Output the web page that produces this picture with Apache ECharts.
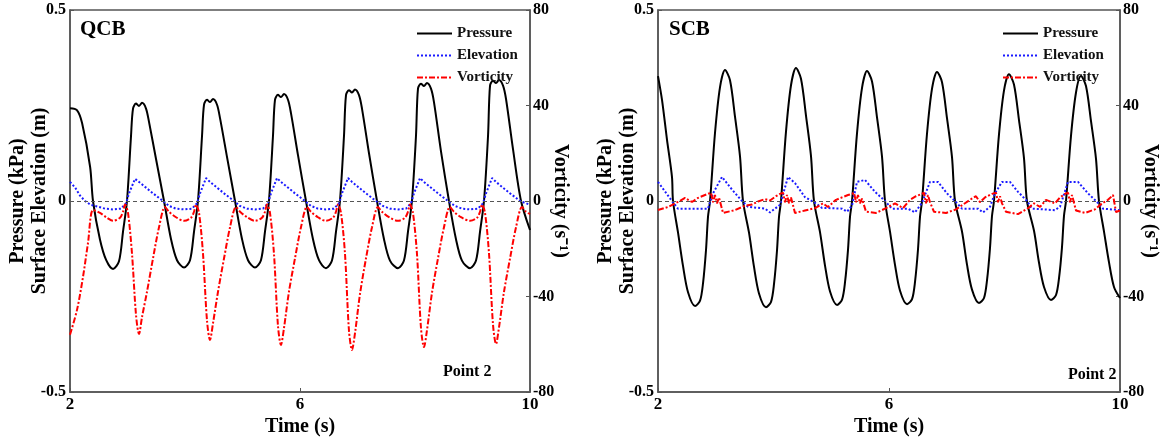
<!DOCTYPE html>
<html>
<head>
<meta charset="utf-8">
<script src="https://cdn.jsdelivr.net/npm/echarts@6/dist/echarts.min.js"></script>
<style>
html,body{margin:0;padding:0;background:#fff;}
#chart{width:1168px;height:441px;}
</style>
</head>
<body>
<div id="chart"></div>
<script>
// ---------- DATA ----------
const timeTicks = [2, 6, 10];
const panelTitles = ['QCB', 'SCB'];
const seriesNames = ['Pressure', 'Elevation', 'Vorticity'];

// QCB (left panel) : [time (s), value]
const qcbPressure = [
[2.00,0.243],[2.12,0.238],[2.21,0.204],[2.35,0.089],[2.40,0],[2.52,-0.10],[2.63,-0.155],
[2.748,-0.178],[2.852,-0.158],[2.922,-0.08],[2.991,0],[3.061,0.17],[3.096,0.242],[3.148,0.255],[3.200,0.249],[3.252,0.257],[3.322,0.242],[3.374,0.207],[3.496,0.11],[3.635,0],[3.757,-0.10],[3.861,-0.155],
[3.983,-0.174],[4.087,-0.155],[4.157,-0.08],[4.226,0],[4.296,0.17],[4.331,0.252],[4.383,0.265],[4.435,0.259],[4.487,0.267],[4.557,0.252],[4.609,0.217],[4.731,0.115],[4.870,0],[4.992,-0.10],[5.096,-0.155],
[5.217,-0.174],[5.321,-0.155],[5.391,-0.08],[5.460,0],[5.530,0.17],[5.565,0.265],[5.617,0.278],[5.669,0.272],[5.721,0.28],[5.791,0.265],[5.843,0.23],[5.965,0.12],[6.104,0],[6.226,-0.10],[6.330,-0.155],
[6.452,-0.176],[6.556,-0.156],[6.626,-0.08],[6.695,0],[6.765,0.17],[6.800,0.277],[6.852,0.29],[6.904,0.284],[6.956,0.292],[7.026,0.277],[7.078,0.242],[7.200,0.125],[7.339,0],[7.461,-0.10],[7.565,-0.156],
[7.704,-0.176],[7.808,-0.156],[7.878,-0.08],[7.947,0],[8.017,0.17],[8.052,0.294],[8.104,0.307],[8.156,0.301],[8.208,0.309],[8.278,0.294],[8.330,0.259],[8.452,0.13],[8.591,0],[8.713,-0.10],[8.817,-0.156],
[8.957,-0.176],[9.061,-0.156],[9.131,-0.08],[9.200,0],[9.270,0.17],[9.305,0.302],[9.357,0.315],[9.409,0.309],[9.461,0.317],[9.531,0.302],[9.583,0.267],[9.705,0.135],[9.844,0],[10.0,-0.076]
];
const qcbElevation = [
[2.0,0.05],[2.09,0.035],[2.17,0.015],[2.26,0.0],[2.36,-0.01],
[2.487,-0.015],[2.609,-0.02],[2.748,-0.022],[2.887,-0.02],[2.974,-0.006],[3.026,0.02],[3.131,0.058],[3.200,0.05],[3.305,0.037],[3.444,0.02],[3.618,0.0],
[3.722,-0.013],[3.844,-0.02],[3.983,-0.022],[4.122,-0.02],[4.209,-0.006],[4.261,0.02],[4.366,0.06],[4.435,0.05],[4.540,0.037],[4.679,0.02],[4.853,0.0],
[4.956,-0.013],[5.078,-0.02],[5.217,-0.022],[5.356,-0.02],[5.443,-0.006],[5.495,0.02],[5.600,0.06],[5.669,0.05],[5.774,0.037],[5.913,0.02],[6.087,0.0],
[6.191,-0.013],[6.313,-0.02],[6.452,-0.022],[6.591,-0.02],[6.678,-0.006],[6.730,0.02],[6.835,0.06],[6.904,0.05],[7.009,0.037],[7.148,0.02],[7.322,0.0],
[7.443,-0.013],[7.565,-0.02],[7.704,-0.022],[7.843,-0.02],[7.930,-0.006],[7.982,0.02],[8.087,0.06],[8.156,0.05],[8.261,0.037],[8.400,0.02],[8.574,0.0],
[8.696,-0.013],[8.818,-0.02],[8.957,-0.022],[9.096,-0.02],[9.183,-0.006],[9.235,0.02],[9.340,0.06],[9.409,0.05],[9.514,0.037],[9.653,0.02],[9.827,0.0],[10.0,-0.01]
];
const qcbVorticity = [
[2.0,-56],[2.122,-45.6],[2.226,-31.8],[2.313,-17.6],[2.40,-3.8],[2.522,-5],[2.643,-7],
[2.748,-8.3],[2.870,-7],[2.922,-4.5],[2.957,-1.5],[3.009,-5],[3.078,-22],[3.148,-47.7],[3.200,-55.7],[3.252,-48.7],[3.339,-38],[3.444,-24],[3.548,-11],[3.652,-2.5],[3.722,-4.5],[3.844,-6.8],
[3.983,-8.3],[4.105,-7],[4.157,-4.5],[4.192,-1.5],[4.244,-5],[4.313,-22],[4.383,-50.2],[4.435,-58.2],[4.487,-51.2],[4.574,-38],[4.679,-24],[4.783,-11],[4.887,-2.5],[4.957,-4.5],[5.079,-6.8],
[5.217,-8.3],[5.339,-7],[5.391,-4.5],[5.426,-1.5],[5.478,-5],[5.547,-22],[5.617,-52.3],[5.669,-60.3],[5.721,-53.3],[5.808,-38],[5.913,-24],[6.017,-11],[6.121,-2.5],[6.191,-4.5],[6.313,-6.8],
[6.452,-8.3],[6.574,-7],[6.626,-4.5],[6.661,-1.5],[6.713,-5],[6.782,-22],[6.852,-54.4],[6.904,-62.4],[6.956,-55.4],[7.043,-39],[7.148,-24],[7.252,-11],[7.356,-2.5],[7.426,-4.5],[7.548,-6.8],
[7.704,-8.3],[7.826,-7],[7.878,-4.5],[7.913,-1.5],[7.965,-5],[8.034,-22],[8.104,-53.2],[8.156,-61.2],[8.208,-54.2],[8.295,-38.5],[8.400,-24],[8.504,-11],[8.608,-2.5],[8.678,-4.5],[8.800,-6.8],
[8.957,-8.3],[9.079,-7],[9.131,-4.5],[9.166,-1.5],[9.218,-5],[9.287,-22],[9.357,-51.9],[9.409,-59.9],[9.461,-52.9],[9.548,-38],[9.653,-24],[9.757,-11],[9.861,-2.5],[9.931,-4.5],[10.0,-5.5]
];

// SCB (right panel)
const scbPressure = [
[2.000,0.327],[2.070,0.264],[2.156,0.16],[2.242,0.063],[2.260,0],
[2.347,-0.083],[2.433,-0.17],[2.520,-0.239],[2.641,-0.275],[2.728,-0.261],[2.780,-0.215],[2.831,-0.129],[2.866,-0.041],[2.901,0],[2.987,0.178],[3.074,0.298],[3.160,0.343],[3.247,0.316],[3.334,0.22],[3.420,0.117],[3.472,0],
[3.576,-0.083],[3.662,-0.172],[3.749,-0.242],[3.870,-0.278],[3.957,-0.264],[4.009,-0.217],[4.060,-0.131],[4.095,-0.042],[4.130,0],[4.216,0.181],[4.303,0.303],[4.389,0.348],[4.476,0.32],[4.563,0.223],[4.649,0.118],[4.701,0],
[4.806,-0.082],[4.892,-0.169],[4.979,-0.237],[5.100,-0.272],[5.187,-0.258],[5.239,-0.212],[5.290,-0.128],[5.325,-0.041],[5.360,0],[5.446,0.177],[5.533,0.296],[5.619,0.34],[5.706,0.313],[5.793,0.218],[5.879,0.116],[5.931,0],
[6.018,-0.081],[6.104,-0.167],[6.191,-0.235],[6.312,-0.27],[6.399,-0.257],[6.451,-0.211],[6.502,-0.127],[6.537,-0.041],[6.572,0],[6.658,0.176],[6.745,0.294],[6.831,0.338],[6.918,0.311],[7.005,0.216],[7.091,0.115],[7.143,0],
[7.264,-0.08],[7.350,-0.166],[7.437,-0.232],[7.558,-0.267],[7.645,-0.254],[7.697,-0.208],[7.748,-0.125],[7.783,-0.04],[7.818,0],[7.904,0.173],[7.991,0.289],[8.077,0.332],[8.164,0.305],[8.251,0.212],[8.337,0.113],[8.389,0],
[8.511,-0.078],[8.597,-0.161],[8.684,-0.225],[8.805,-0.259],[8.892,-0.246],[8.944,-0.202],[8.995,-0.122],[9.030,-0.039],[9.065,0],[9.151,0.17],[9.238,0.284],[9.324,0.327],[9.411,0.301],[9.498,0.209],[9.584,0.111],[9.636,0],
[9.723,-0.08],[9.809,-0.16],[9.896,-0.225],[10.0,-0.254]
];
const scbElevation = [
[2.000,0.05],[2.242,0.0],[2.346,-0.02],[2.866,-0.02],[2.952,0.02],[3.108,0.063],[3.281,0.03],[3.455,0.0],[3.558,-0.015],
[3.853,-0.02],[3.939,-0.03],[4.026,-0.02],[4.113,-0.01],[4.251,0.063],[4.372,0.047],[4.545,0.01],[4.719,-0.005],[4.840,-0.018],
[5.186,-0.02],[5.273,-0.028],[5.359,-0.012],[5.446,0.05],[5.584,0.055],[5.758,0.024],[5.931,0.0],[6.052,-0.02],
[6.329,-0.02],[6.450,-0.03],[6.571,-0.005],[6.710,0.05],[6.848,0.05],[7.004,0.02],[7.143,0.0],[7.264,-0.02],
[7.541,-0.02],[7.628,-0.03],[7.749,-0.015],[7.835,0.02],[7.957,0.05],[8.095,0.05],[8.234,0.024],[8.390,0.0],[8.476,-0.02],
[8.874,-0.024],[8.961,-0.015],[9.100,0.05],[9.273,0.05],[9.446,0.02],[9.619,-0.005],[9.706,-0.02],[10.0,-0.024]
];
const scbVorticity = [
[2.000,-3.8],[2.173,-2.5],[2.346,-0.4],[2.468,1.3],[2.589,-0.4],[2.693,1.3],[2.814,2.5],
[2.848,2.8],[2.918,3.5],[2.952,-0.5],[2.987,2.5],[3.022,-1],[3.056,1.5],[3.126,-5],[3.333,-3.8],[3.506,-2],[3.628,-1.5],[3.732,-0.2],[3.853,0.8],[3.939,0.2],[4.043,2],[4.113,3],
[4.165,3.5],[4.199,-0.5],[4.234,2.5],[4.268,-1],[4.303,1.5],[4.372,-5],[4.545,-4],[4.719,-3],[4.857,-1],[4.944,-2.5],[5.082,0.5],[5.186,1.5],[5.290,2.5],[5.359,3],
[5.394,3.5],[5.429,-0.5],[5.463,2.5],[5.498,-1],[5.532,1],[5.602,-4.5],[5.775,-5],[5.948,-3],[6.104,-1],[6.242,-3],[6.364,0.5],[6.468,2],[6.571,3],
[6.606,3.5],[6.641,-1],[6.675,2.5],[6.710,-0.5],[6.779,-4.5],[6.987,-5],[7.160,-3.5],[7.281,-1.5],[7.403,0.5],[7.506,2],[7.576,-0.5],[7.662,1.5],[7.784,3],
[7.853,3.5],[7.887,-0.5],[7.922,2],[7.957,-1],[8.026,-4.5],[8.234,-5.5],[8.407,-3],[8.511,-1],[8.615,-2.5],[8.719,0.5],[8.874,-1],[8.961,1.5],[9.048,3],
[9.100,3.5],[9.134,-0.5],[9.169,2.5],[9.238,-4],[9.394,-5],[9.567,-3.5],[9.688,-1],[9.792,0.5],[9.879,2.5],[9.931,-4.6],[10.0,-4]
];

// ---------- CHART ----------
const FONT = '"Liberation Serif", "Times New Roman", serif';
const AXIS_COLOR = '#555';
const chart = echarts.init(document.getElementById('chart'), null, {renderer: 'canvas'});

const grids = [
  {left: 70, top: 10, width: 460, height: 382},
  {left: 658, top: 10, width: 462, height: 382}
];

function xAxisFor(gi) {
  return {
    type: 'value', gridIndex: gi, min: 2, max: 10,
    name: 'Time (s)', nameLocation: 'middle', nameGap: 25, nameMoveOverlap: false,
    nameTextStyle: {fontFamily: FONT, fontWeight: 'bold', fontSize: 20, color: '#000'},
    axisLine: {onZero: false, lineStyle: {color: AXIS_COLOR, width: 1.5}},
    axisTick: {inside: true, length: 4, customValues: timeTicks, lineStyle: {color: AXIS_COLOR}},
    axisLabel: {customValues: timeTicks, fontFamily: FONT, fontWeight: 'bold', fontSize: 17, color: '#000', margin: 4},
    splitLine: {show: false}
  };
}
function yLeftFor(gi) {
  return {
    type: 'value', gridIndex: gi, min: -0.5, max: 0.5, interval: 0.5, position: 'left',
    name: 'Pressure (kPa)\nSurface Elevation (m)', nameLocation: 'middle', nameGap: 19, nameMoveOverlap: false,
    nameTextStyle: {fontFamily: FONT, fontWeight: 'bold', fontSize: 20, lineHeight: 22, color: '#000'},
    axisLine: {show: true, onZero: false, lineStyle: {color: AXIS_COLOR, width: 1.5}},
    axisTick: {show: true, inside: true, length: 4, lineStyle: {color: AXIS_COLOR}},
    axisLabel: {fontFamily: FONT, fontWeight: 'bold', fontSize: 16, color: '#000', margin: 4},
    splitLine: {show: false}
  };
}
function yRightFor(gi) {
  return {
    type: 'value', gridIndex: gi, min: -80, max: 80, interval: 40, position: 'right',
    name: 'Vorticity (s\u207B\u00B9)', nameLocation: 'middle', nameGap: 20, nameRotate: -90, nameMoveOverlap: false,
    nameTextStyle: {fontFamily: FONT, fontWeight: 'bold', fontSize: 20, color: '#000'},
    axisLine: {show: true, onZero: false, lineStyle: {color: AXIS_COLOR, width: 1.5}},
    axisTick: {show: true, inside: true, length: 4, lineStyle: {color: AXIS_COLOR}},
    axisLabel: {fontFamily: FONT, fontWeight: 'bold', fontSize: 16, color: '#000', margin: 3},
    splitLine: {show: false}
  };
}

function seriesFor(gi, p, e, v) {
  return [
    {
      name: seriesNames[0], type: 'line', xAxisIndex: gi, yAxisIndex: gi * 2,
      data: p, symbol: 'none', smooth: 0.3, z: 3,
      lineStyle: {color: '#000', width: 2},
      itemStyle: {color: '#000'},
      markLine: {
        silent: true, symbol: 'none', label: {show: false}, animation: false,
        lineStyle: {color: '#555', width: 1, type: [4, 3]},
        data: [{yAxis: 0}]
      }
    },
    {
      name: seriesNames[1], type: 'line', xAxisIndex: gi, yAxisIndex: gi * 2,
      data: e, symbol: 'none', smooth: false, z: 4,
      lineStyle: {color: '#1a1aff', width: 2, type: [2, 2]},
      itemStyle: {color: '#1a1aff'}
    },
    {
      name: seriesNames[2], type: 'line', xAxisIndex: gi, yAxisIndex: gi * 2 + 1,
      data: v, symbol: 'none', smooth: gi === 0 ? 0.3 : false, z: 5,
      lineStyle: {color: '#ff0000', width: 2, type: [6, 2, 2, 2]},
      itemStyle: {color: '#ff0000'}
    }
  ];
}

function legendFor(left) {
  return {
    left: left, top: 21, orient: 'vertical', itemWidth: 35, itemHeight: 14, itemGap: 7,
    selectedMode: false, data: seriesNames,
    itemStyle: {opacity: 0},
    textStyle: {fontFamily: FONT, fontWeight: 'bold', fontSize: 15, color: '#111'}
  };
}

const option = {
  animation: false,
  backgroundColor: '#fff',
  grid: grids.map(g => Object.assign({show: true, borderColor: AXIS_COLOR, borderWidth: 1.5, backgroundColor: 'transparent', containLabel: false, outerBoundsMode: 'none'}, g)),
  xAxis: [xAxisFor(0), xAxisFor(1)],
  yAxis: [yLeftFor(0), yRightFor(0), yLeftFor(1), yRightFor(1)],
  legend: [legendFor(411), legendFor(997)],
  series: [].concat(
    seriesFor(0, qcbPressure, qcbElevation, qcbVorticity),
    seriesFor(1, scbPressure, scbElevation, scbVorticity)
  ),
  graphic: [
    {type: 'text', left: 80, top: 19, style: {text: panelTitles[0], font: 'bold 21px ' + FONT, fill: '#000'}},
    {type: 'text', left: 669, top: 19, style: {text: panelTitles[1], font: 'bold 21px ' + FONT, fill: '#000'}},
    {type: 'text', left: 443, top: 364, style: {text: 'Point 2', font: 'bold 16px ' + FONT, fill: '#000'}},
    {type: 'text', left: 1068, top: 367, style: {text: 'Point 2', font: 'bold 16px ' + FONT, fill: '#000'}}
  ]
};
chart.setOption(option);
</script>
</body>
</html>
